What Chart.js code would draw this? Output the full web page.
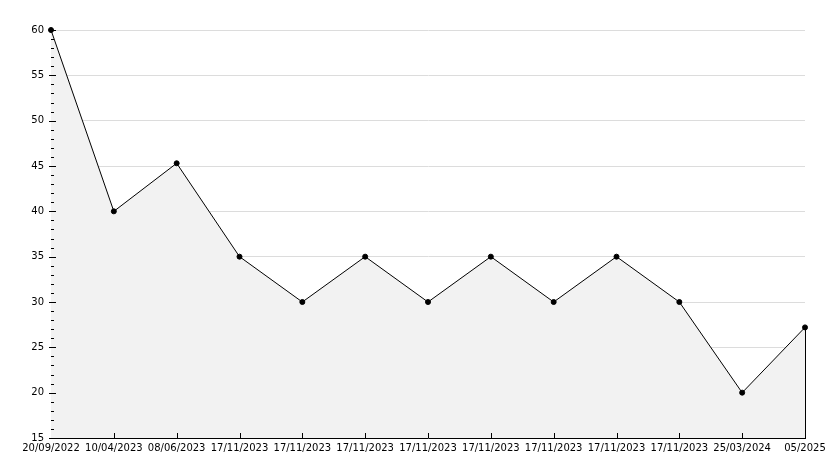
<!DOCTYPE html>
<html>
<head>
<meta charset="utf-8">
<script src="https://cdn.jsdelivr.net/npm/chart.js@4"></script>
<style>
  html, body { margin: 0; padding: 0; background: #fff; }
  #wrap { width: 834px; height: 468px; }
</style>
</head>
<body>
<div id="wrap"><canvas id="myChart" width="834" height="468"></canvas></div>
<script>
const xLabels = ['20/09/2022', '10/04/2023', '08/06/2023', '17/11/2023', '17/11/2023', '17/11/2023', '17/11/2023',
  '17/11/2023', '17/11/2023', '17/11/2023', '17/11/2023', '25/03/2024', '05/2025'];
const yValues = [60, 40, 45.3, 35, 30, 35, 30, 35, 30, 35, 30, 20, 27.2];
const yMin = 15;
const yMax = 60;
const yStep = 5;

// inner tick marks + closing edge of the filled area
const tickMarks = {
  id: 'tickMarks',
  afterDatasetsDraw(chart) {
    const ctx = chart.ctx;
    const x = chart.scales.x, y = chart.scales.y;
    const area = chart.chartArea;
    ctx.save();
    ctx.strokeStyle = '#000';
    ctx.lineWidth = 1;
    ctx.beginPath();
    for (let v = yMin; v <= yMax; v++) {
      const py = Math.round(y.getPixelForValue(v)) + 0.5;
      const len = v % yStep === 0 ? 5 : 3;
      ctx.moveTo(area.left - (v % yStep === 0 ? 2 : 0), py);
      ctx.lineTo(area.left + len, py);
    }
    for (let i = 1; i < xLabels.length; i++) {
      const px = Math.round(x.getPixelForValue(i)) + 0.5;
      ctx.moveTo(px, area.bottom);
      ctx.lineTo(px, area.bottom - 5);
    }
    const meta = chart.getDatasetMeta(0);
    const last = meta.data[meta.data.length - 1];
    ctx.moveTo(Math.round(last.x) + 0.5, last.y);
    ctx.lineTo(Math.round(last.x) + 0.5, area.bottom);
    ctx.stroke();
    ctx.restore();
  }
};

Chart.defaults.font.family = 'DejaVu Sans';
Chart.defaults.font.size = 10;
Chart.defaults.color = '#000';

new Chart('myChart', {
  type: 'line',
  data: {
    labels: xLabels,
    datasets: [{
      data: yValues,
      borderColor: '#000',
      borderWidth: 1,
      backgroundColor: '#f2f2f2',
      fill: 'start',
      tension: 0,
      clip: false,
      pointRadius: 2.5,
      pointBackgroundColor: '#000',
      pointBorderColor: '#000',
      pointBorderWidth: 1
    }]
  },
  options: {
    responsive: false,
    animation: false,
    layout: { padding: { top: 30, right: 29, left: 0, bottom: 0 } },
    plugins: {
      legend: { display: false },
      tooltip: { enabled: false }
    },
    scales: {
      x: {
        offset: false,
        grid: { display: false, drawTicks: false },
        border: { display: true, color: '#000', width: 1 },
        ticks: { autoSkip: false, maxRotation: 0, minRotation: 0, padding: 4 },
        afterFit(scale) { scale.height = 30; }
      },
      y: {
        min: yMin,
        max: yMax,
        grid: { color: '#dcdcdc', drawTicks: false },
        border: { display: true, color: '#000', width: 1 },
        ticks: { stepSize: yStep, padding: 7 },
        afterFit(scale) { scale.width = 51; }
      }
    }
  },
  plugins: [tickMarks]
});
</script>
</body>
</html>
